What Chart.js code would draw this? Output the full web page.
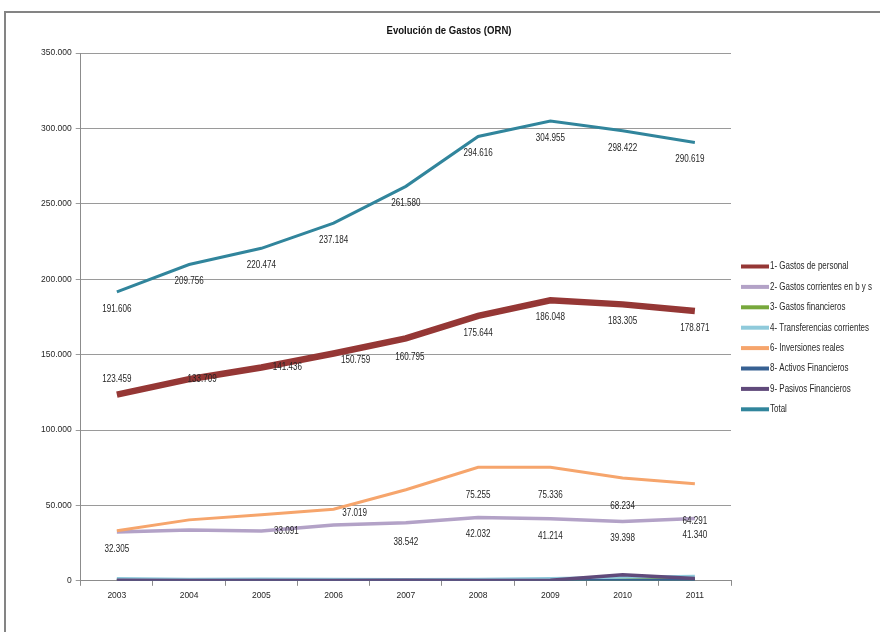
<!DOCTYPE html>
<html><head><meta charset="utf-8">
<script src="https://cdn.jsdelivr.net/npm/chart.js@4.4.1/dist/chart.umd.min.js"></script>
<style>
html,body{margin:0;padding:0;background:#fff;overflow:hidden}
#wrap{position:relative;width:880px;height:632px}
#frame{position:absolute;left:4px;top:11px;width:900px;height:700px;border:2px solid #848484;box-sizing:border-box}
canvas{position:absolute;left:0;top:0}
</style></head><body>
<div id="wrap"><div id="frame"></div><canvas id="c" width="880" height="632" style="width:880px;height:632px"></canvas></div>
<script>
// ---- data ----
const years = ['2003','2004','2005','2006','2007','2008','2009','2010','2011'];
const gastosPersonal = [123459,133709,141436,150759,160795,175644,186048,183305,178871];
const gastosCorrientes = [32305,33700,33091,37019,38542,42032,41214,39398,41340];
const gastosFinancieros = [600,500,500,500,400,400,500,900,1100];
const transferencias = [1500,1000,1200,1000,900,1000,1600,2400,3000];
const inversiones = [33200,40400,43800,47500,60400,75255,75336,68234,64291];
const activos = [200,200,200,200,200,200,200,200,500];
const pasivos = [300,200,200,200,300,200,300,4000,1500];
const total = [191606,209756,220474,237184,261580,294616,304955,298422,290619];
const seriesNames = ['1- Gastos de personal','2- Gastos corrientes en b y s','3- Gastos financieros','4- Transferencias corrientes','6- Inversiones reales','8- Activos Financieros','9- Pasivos Financieros','Total'];
const yMax = 350000, yStep = 50000;
const title = 'Evolución de Gastos (ORN)';

// ---- styles ----
const FONT = "'Liberation Sans',Arial,sans-serif";
const colors = ['#953735','#b3a2c7','#77a83c','#8fcadb','#f6a56c','#376092','#604a7b','#31859c'];
const widths = [6.5,3.5,3,3,3,3,3.5,3];
const seriesData = [gastosPersonal,gastosCorrientes,gastosFinancieros,transferencias,inversiones,activos,pasivos,total];

// label placement (style only): dataset index -> {dy, show, nudge:{idx:[dx,dy]}}
const labelStyle = {
  0: {dy: 17, show: null, nudge: {0:[0,-16], 1:[13,0], 2:[26,0], 3:[22,7], 4:[4,19]}},
  1: {dy: 17, show: [0,2,3,4,5,6,7,8], nudge: {2:[25,0], 3:[21,-12], 4:[0,19]}},
  4: {dy: 28, show: [5,6,7,8], nudge: {8:[0,37]}},
  7: {dy: 17, show: null, nudge: {8:[-5,17]}}
};

function fmt(v){ return String(Math.round(v)).replace(/\B(?=(\d{3})+(?!\d))/g,'.'); }

// draw condensed text (Calibri-like width)
function condText(ctx, txt, x, y, sx, align){
  ctx.save();
  ctx.translate(x, y);
  ctx.scale(sx, 1);
  ctx.textAlign = align;
  ctx.fillText(txt, 0, 0);
  ctx.restore();
}

const labelPlugin = {
  id: 'valueLabels',
  afterDatasetsDraw(chart){
    const ctx = chart.ctx;
    ctx.save();
    ctx.font = '10.5px ' + FONT;
    ctx.fillStyle = '#262626';
    ctx.textBaseline = 'middle';
    Object.keys(labelStyle).forEach(k => {
      const di = +k, st = labelStyle[k];
      const meta = chart.getDatasetMeta(di);
      const ds = chart.data.datasets[di];
      meta.data.forEach((pt, i) => {
        if (st.show && st.show.indexOf(i) < 0) return;
        const n = st.nudge[i] || [0, st.dy];
        condText(ctx, fmt(ds.data[i]), pt.x + n[0], pt.y + n[1], 0.77, 'center');
      });
    });
    ctx.restore();
  }
};

const decorPlugin = {
  id: 'decor',
  afterDraw(chart){
    const ctx = chart.ctx;
    ctx.save();
    ctx.textBaseline = 'middle';
    // title
    ctx.font = 'bold 11px ' + FONT;
    ctx.fillStyle = '#111';
    condText(ctx, title, 449, 31, 0.87, 'center');
    // legend
    ctx.font = '10.5px ' + FONT;
    chart.data.datasets.forEach((ds, i) => {
      const y = 266.5 + i * 20.4;
      ctx.fillStyle = ds.borderColor;
      ctx.fillRect(741, y - 2, 28, 4);
      ctx.fillStyle = '#262626';
      condText(ctx, ds.label, 770, y, 0.76, 'left');
    });
    ctx.restore();
  }
};

new Chart(document.getElementById('c'), {
  type: 'line',
  data: {
    labels: years,
    datasets: seriesData.map((d, i) => ({
      label: seriesNames[i],
      data: d,
      borderColor: colors[i],
      backgroundColor: colors[i],
      borderWidth: widths[i],
      pointRadius: 0,
      tension: 0,
      fill: false,
      order: 8 - i
    }))
  },
  options: {
    responsive: false,
    animation: false,
    devicePixelRatio: 1,
    layout: {padding: {left: 37, right: 149, top: 53, bottom: 26}},
    plugins: {legend: {display: false}, title: {display: false}, tooltip: {enabled: false}},
    scales: {
      x: {
        offset: true,
        grid: {display: true, offset: true, drawOnChartArea: false, tickLength: 5, color: '#8c8c8c'},
        border: {color: '#8c8c8c'},
        ticks: {font: {family: FONT, size: 8.5}, color: '#262626', padding: 5, maxRotation: 0}
      },
      y: {
        min: 0, max: yMax,
        grid: {color: '#9a9a9a', tickLength: 5},
        border: {color: '#8c8c8c'},
        ticks: {stepSize: yStep, font: {family: FONT, size: 8.5}, color: '#262626', padding: 4, callback: v => fmt(v)}
      }
    }
  },
  plugins: [labelPlugin, decorPlugin]
});
</script>
</body></html>
